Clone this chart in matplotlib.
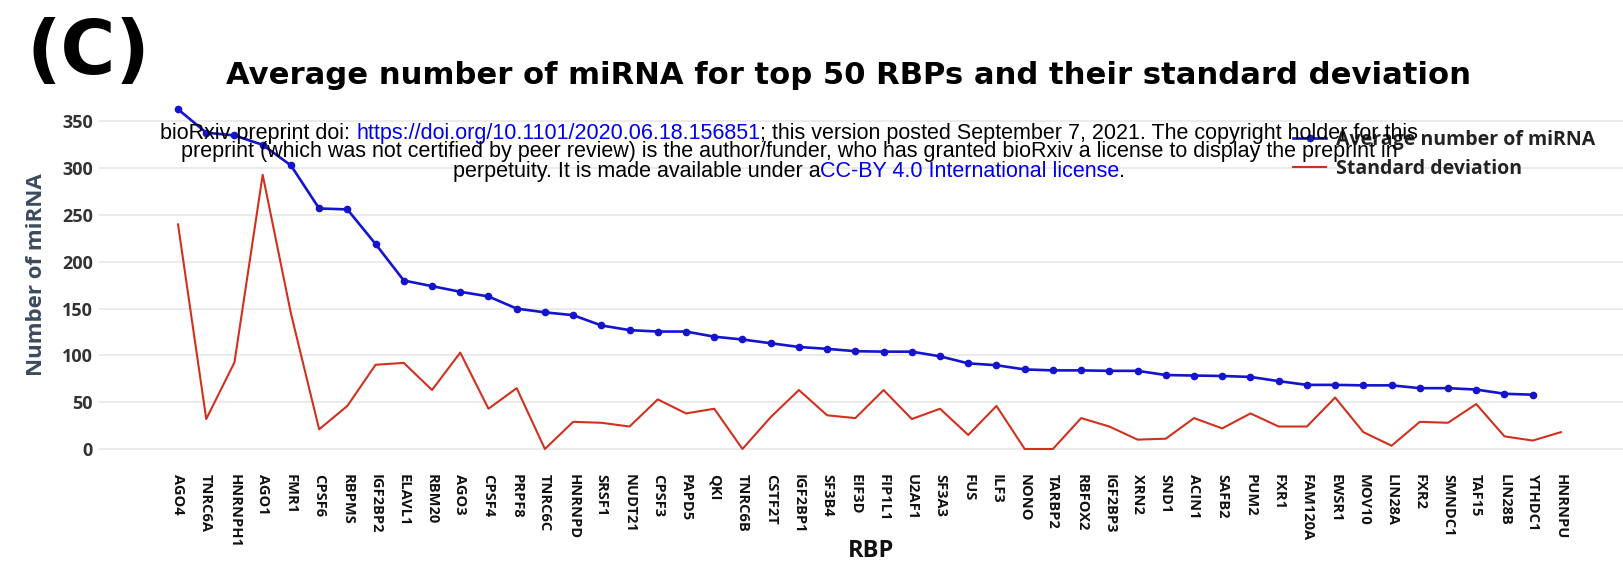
import numpy as np
import matplotlib
matplotlib.use("Agg")
import matplotlib.pyplot as plt
from matplotlib.offsetbox import TextArea, HPacker, AnnotationBbox

# Datos del gráfico
rbps = ["AGO4", "TNRC6A", "HNRNPH1", "AGO1", "FMR1", "CPSF6", "RBPMS", "IGF2BP2",
        "ELAVL1", "RBM20", "AGO3", "CPSF4", "PRPF8", "TNRC6C", "HNRNPD", "SRSF1",
        "NUDT21", "CPSF3", "PAPD5", "QKI", "TNRC6B", "CSTF2T", "IGF2BP1", "SF3B4",
        "EIF3D", "FIP1L1", "U2AF1", "SF3A3", "FUS", "ILF3", "NONO", "TARBP2",
        "RBFOX2", "IGF2BP3", "XRN2", "SND1", "ACIN1", "SAFB2", "PUM2", "FXR1",
        "FAM120A", "EWSR1", "MOV10", "LIN28A", "FXR2", "SMNDC1", "TAF15", "LIN28B",
        "YTHDC1", "HNRNPU"]

# promedio (49 puntos, HNRNPU sin valor)
promedio_mirna = [363, 338, 335, 325, 303, 257, 256, 219, 180, 174, 168, 163, 150,
                  146, 143, 132, 127, 125.5, 125.5, 120, 117, 113, 109, 107, 104.5,
                  104, 104, 99, 91.5, 89.5, 85, 84, 84, 83.5, 83.5, 79, 78.5, 78, 77,
                  72.5, 68.5, 68.5, 68, 68, 65, 65, 63.5, 59, 58]

desviacion = [240, 32, 92.5, 293, 145, 21, 46, 90, 92, 63, 103, 43, 65, 0, 29, 28,
              24, 53, 38, 43, 0, 34, 63, 36, 33, 63, 32, 43, 15, 46, 0, 0, 33, 24,
              10, 11, 33, 22, 38, 24, 24, 55, 18, 3.5, 29, 28, 48, 13.5, 9, 18]

yticks = [0, 50, 100, 150, 200, 250, 300, 350]

W, H = 1623, 565
fig = plt.figure(figsize=(W / 100, H / 100), dpi=100)
ax = fig.add_axes([99 / W, 1 - 462 / H, 1 - 99 / W, 362 / H])

x = np.arange(len(rbps))
azul = "#1414cf"
rojo = "#d2301e"

ax.plot(x[:len(promedio_mirna)], promedio_mirna, color=azul, lw=1.9,
        marker="o", ms=4.5, label="Average number of miRNA", zorder=3)
ax.plot(x, desviacion, color=rojo, lw=1.5, label="Standard deviation", zorder=2)

ax.set_xlim(-2.8, 51.2)
ax.set_ylim(-13.9, 372.9)
ax.set_yticks(yticks)
ax.set_xticks(x, labels=rbps, rotation=270)
ax.grid(axis="y", color="#e9e9e9", lw=1.3)
ax.set_axisbelow(True)
for s in ax.spines.values():
    s.set_visible(False)
ax.tick_params(length=0)
ax.tick_params(axis="x", pad=8.5)
ax.tick_params(axis="y", pad=4.5)
for t in ax.get_xticklabels():
    t.set_fontfamily("Open Sans")
    t.set_fontweight("bold")
    t.set_fontsize(10.5)
    t.set_color("#111111")
for t in ax.get_yticklabels():
    t.set_fontfamily("Open Sans")
    t.set_fontweight("bold")
    t.set_fontsize(13)
    t.set_color("#333333")

leg = ax.legend(loc="upper left", bbox_to_anchor=(1293 / W, 1 - 130 / H),
                bbox_transform=fig.transFigure, frameon=False,
                prop={"family": "Open Sans", "weight": "bold", "size": 14},
                handlelength=1.7, handletextpad=0.5, labelspacing=0.45,
                borderpad=0, borderaxespad=0)
for t in leg.get_texts():
    t.set_color("#222222")

# Textos de la figura
fig.text(88 / W, 1 - 53 / H, "(C)", fontsize=54, fontweight="bold",
         family="DejaVu Sans", ha="center", va="center")
fig.text(848 / W, 1 - 84 / H,
         "Average number of miRNA for top 50 RBPs and their standard deviation",
         fontsize=22.1, fontweight="bold", family="DejaVu Sans",
         ha="center", va="baseline")
fig.text(37 / W, 1 - 275 / H, "Number of miRNA", rotation=90, fontsize=16,
         fontweight="bold", family="Open Sans", color="#3b4a5e",
         ha="center", va="center")
fig.text(871 / W, 1 - 551 / H, "RBP", fontsize=17, fontweight="bold",
         family="Open Sans", ha="center", va="center", color="#111111")

# Marca de agua bioRxiv
props = dict(family="Liberation Sans", size=15.5)
lineas = [
    [("bioRxiv preprint doi: ", "black"),
     ("https://doi.org/10.1101/2020.06.18.156851", "#0000ee"),
     ("; this version posted September 7, 2021. The copyright holder for this", "black")],
    [("preprint (which was not certified by peer review) is the author/funder, "
      "who has granted bioRxiv a license to display the preprint in", "black")],
    [("perpetuity. It is made available under a", "black"),
     ("CC-BY 4.0 International license", "#0000ee"),
     (".", "black")],
]
centros_y = [133, 152, 172]
for partes, yc in zip(lineas, centros_y):
    cajas = [TextArea(txt, textprops=dict(color=c, **props)) for txt, c in partes]
    fila = HPacker(children=cajas, align="baseline", pad=0, sep=0)
    ab = AnnotationBbox(fila, (789 / W, 1 - yc / H), xycoords="figure fraction",
                        frameon=False, box_alignment=(0.5, 0.5), pad=0,
                        annotation_clip=False, zorder=5)
    fig.add_artist(ab)

fig.savefig("out.png", dpi=100)
